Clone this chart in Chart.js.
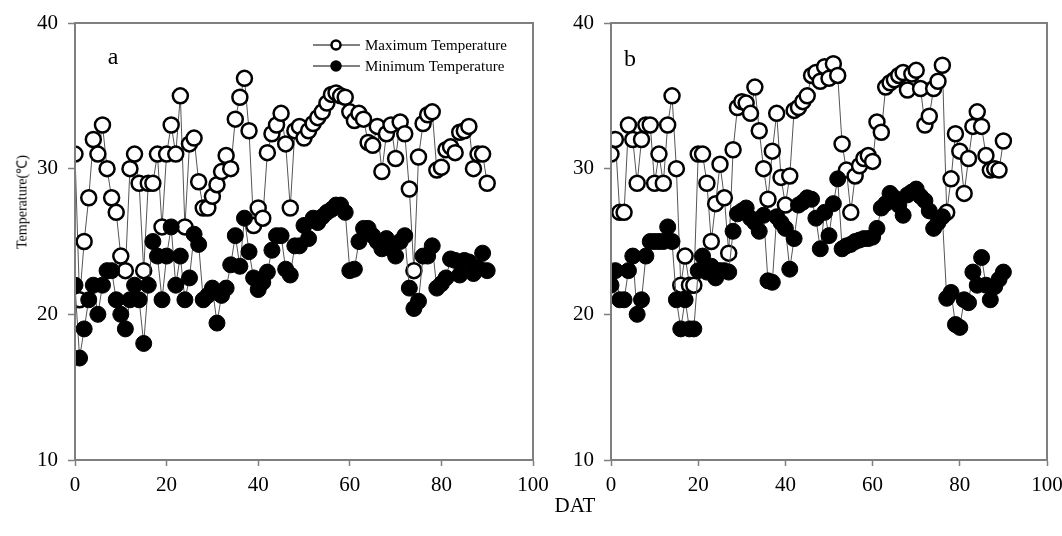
<!DOCTYPE html>
<html>
<head>
    <title>Max / Min Temperature</title>
    <script src="https://cdn.jsdelivr.net/npm/chart.js@4.4.1/dist/chart.umd.min.js"></script>
    <style>
        body {
            margin: 0;
            background: #ffffff;
            font-family: "Liberation Serif", "Times New Roman", serif;
        }
        #wrap {
            position: relative;
            width: 1062px;
            height: 536px;
            overflow: hidden;
        }
        #chartA { position: absolute; left: 0; top: 0; }
        #chartB { position: absolute; left: 556px; top: 0; }
        .ytitle {
            position: absolute;
            left: 21px;
            top: 202px;
            transform: translate(-50%, -50%) rotate(-90deg);
            font-size: 14px;
            white-space: nowrap;
            color: #000;
        }
        .xtitle {
            position: absolute;
            left: 575px;
            top: 505px;
            transform: translate(-50%, -50%);
            font-size: 21px;
            color: #000;
        }
    </style>
</head>
<body>
<div id="wrap">
    <canvas id="chartA" width="556" height="536"></canvas>
    <canvas id="chartB" width="506" height="536"></canvas>
    <div class="ytitle">Temperature(℃)</div>
    <div class="xtitle">DAT</div>
</div>

<script>
// days after transplanting
var days = [0, 1, 2, 3, 4, 5, 6, 7, 8, 9, 10, 11, 12, 13, 14, 15, 16, 17, 18, 19,
    20, 21, 22, 23, 24, 25, 26, 27, 28, 29, 30, 31, 32, 33, 34, 35, 36, 37, 38, 39,
    40, 41, 42, 43, 44, 45, 46, 47, 48, 49, 50, 51, 52, 53, 54, 55, 56, 57, 58, 59,
    60, 61, 62, 63, 64, 65, 66, 67, 68, 69, 70, 71, 72, 73, 74, 75, 76, 77, 78, 79,
    80, 81, 82, 83, 84, 85, 86, 87, 88, 89, 90];

// panel a
var maxTempA = [31, 21, 25, 28, 32, 31, 33, 30, 28, 27, 24, 23, 30, 31, 29, 23, 29, 29, 31, 26,
    31, 33, 31, 35, 26, 31.7, 32.1, 29.1, 27.3, 27.3, 28.1, 28.9, 29.8, 30.9, 30, 33.4, 34.9, 36.2, 32.6, 26.1,
    27.3, 26.6, 31.1, 32.4, 33, 33.8, 31.7, 27.3, 32.6, 32.9, 32.1, 32.6, 33.1, 33.5, 33.9, 34.5, 35.1, 35.2, 35, 34.9,
    33.9, 33.3, 33.8, 33.4, 31.8, 31.6, 32.9, 29.8, 32.4, 33, 30.7, 33.2, 32.4, 28.6, 23, 30.8, 33.1, 33.7, 33.9, 29.9,
    30.1, 31.3, 31.5, 31.1, 32.5, 32.6, 32.9, 30, 31, 31, 29];
var minTempA = [22, 17, 19, 21, 22, 20, 22, 23, 23, 21, 20, 19, 21, 22, 21, 18, 22, 25, 24, 21,
    24, 26, 22, 24, 21, 22.5, 25.5, 24.8, 21, 21.3, 21.8, 19.4, 21.3, 21.8, 23.4, 25.4, 23.3, 26.6, 24.3, 22.5,
    21.7, 22.2, 22.9, 24.4, 25.4, 25.4, 23.1, 22.7, 24.7, 24.7, 26.1, 25.2, 26.6, 26.3, 26.7, 27, 27.2, 27.5, 27.5, 27,
    23, 23.1, 25, 25.9, 25.9, 25.4, 25, 24.5, 25.2, 24.5, 24, 25, 25.4, 21.8, 20.4, 20.9, 24, 24, 24.7, 21.8,
    22.1, 22.5, 23.8, 23.7, 22.7, 23.7, 23.6, 22.8, 23.2, 24.2, 23];

// panel b
var maxTempB = [31, 32, 27, 27, 33, 32, 29, 32, 33, 33, 29, 31, 29, 33, 35, 30, 22, 24, 22, 22,
    31, 31, 29, 25, 27.6, 30.3, 28, 24.2, 31.3, 34.2, 34.6, 34.5, 33.8, 35.6, 32.6, 30, 27.9, 31.2, 33.8, 29.4,
    27.5, 29.5, 34, 34.2, 34.6, 35, 36.4, 36.6, 36, 37, 36.2, 37.2, 36.4, 31.7, 29.9, 27, 29.5, 30.2, 30.7, 30.9,
    30.5, 33.2, 32.5, 35.6, 35.9, 36.1, 36.4, 36.6, 35.4, 36.5, 36.75, 35.5, 33, 33.6, 35.5, 36, 37.1, 27, 29.3, 32.4,
    31.2, 28.3, 30.7, 32.9, 33.9, 32.9, 30.9, 29.9, 30, 29.9, 31.9];
var minTempB = [22, 23, 21, 21, 23, 24, 20, 21, 24, 25, 25, 25, 25, 26, 25, 21, 19, 21, 19, 19,
    23, 24, 22.9, 23.3, 22.5, 23, 23, 22.9, 25.7, 26.9, 27.1, 27.3, 26.6, 26.3, 25.7, 26.8, 22.3, 22.2, 26.7, 26.3,
    25.9, 23.1, 25.2, 27.5, 27.7, 28, 27.9, 26.6, 24.5, 27, 25.4, 27.6, 29.3, 24.5, 24.7, 24.8, 25, 25.1, 25.2, 25.2,
    25.3, 25.9, 27.3, 27.6, 28.3, 28, 27.5, 26.8, 28.2, 28.4, 28.6, 28.1, 27.8, 27.1, 25.9, 26.3, 26.7, 21.1, 21.5, 19.3,
    19.1, 21, 20.8, 22.9, 22, 23.9, 22, 21, 21.9, 22.4, 22.9];

var xTicks = [0, 20, 40, 60, 80, 100];
var yTicks = [10, 20, 30, 40];
var seriesNames = ['Maximum Temperature', 'Minimum Temperature'];

var axisGray = '#7f7f7f';
var serif = '"Liberation Serif", "Times New Roman", serif';

function toPoints(values) {
    return days.map(function (d, i) { return { x: d, y: values[i] }; });
}

// box around the plot area + the panel letter
var framePlugin = {
    id: 'panelFrame',
    afterDraw: function (chart, args, opts) {
        var ctx = chart.ctx, a = chart.chartArea;
        ctx.save();
        ctx.strokeStyle = axisGray;
        ctx.lineWidth = 2;
        ctx.strokeRect(a.left, a.top, a.right - a.left, a.bottom - a.top);
        if (opts.letter) {
            ctx.fillStyle = '#000';
            ctx.font = '24px ' + serif;
            ctx.textAlign = 'center';
            ctx.textBaseline = 'middle';
            ctx.fillText(opts.letter, opts.letterX, opts.letterY);
        }
        ctx.restore();
    }
};

// legend drawn inside the plot (panel a only)
var insideLegend = {
    id: 'insideLegend',
    afterDraw: function (chart, args, opts) {
        if (!opts.show) return;
        var ctx = chart.ctx;
        ctx.save();
        chart.data.datasets.forEach(function (ds, i) {
            var y = opts.y + i * opts.gap;
            ctx.strokeStyle = '#000';
            ctx.lineWidth = 1;
            ctx.beginPath();
            ctx.moveTo(opts.x, y);
            ctx.lineTo(opts.x + 47, y);
            ctx.stroke();
            ctx.beginPath();
            ctx.arc(opts.x + 23, y, 4.5, 0, Math.PI * 2);
            ctx.fillStyle = ds.pointBackgroundColor;
            ctx.fill();
            ctx.lineWidth = 2.5;
            ctx.strokeStyle = '#000';
            ctx.stroke();
            ctx.fillStyle = '#000';
            ctx.font = '15px ' + serif;
            ctx.textAlign = 'left';
            ctx.textBaseline = 'middle';
            ctx.fillText(ds.label, opts.x + 52, y + 1);
        });
        ctx.restore();
    }
};

function makePanel(canvasId, maxVals, minVals, cfg) {
    var ctx = document.getElementById(canvasId).getContext('2d');
    return new Chart(ctx, {
        type: 'line',
        data: {
            datasets: [{
                label: seriesNames[0],
                data: toPoints(maxVals),
                borderColor: '#555555',
                borderWidth: 1,
                pointRadius: 7.5,
                pointBorderWidth: 2.5,
                pointBackgroundColor: '#ffffff',
                pointBorderColor: '#000000',
                order: 1
            }, {
                label: seriesNames[1],
                data: toPoints(minVals),
                borderColor: '#555555',
                borderWidth: 1,
                pointRadius: 8,
                pointBorderWidth: 1,
                pointBackgroundColor: '#000000',
                pointBorderColor: '#000000',
                order: 0
            }]
        },
        plugins: [framePlugin, insideLegend],
        options: {
            responsive: false,
            animation: false,
            layout: { padding: { top: 23, right: cfg.padRight, bottom: 0, left: 0 } },
            plugins: {
                legend: { display: false },
                tooltip: { enabled: false },
                panelFrame: { letter: cfg.letter, letterX: cfg.letterX, letterY: cfg.letterY },
                insideLegend: { show: cfg.legend, x: 313, y: 45, gap: 21 }
            },
            scales: {
                x: {
                    type: 'linear',
                    min: 0,
                    max: 100,
                    afterBuildTicks: function (scale) {
                        scale.ticks = xTicks.map(function (v) { return { value: v }; });
                    },
                    afterFit: function (scale) {
                        scale.height = 76;
                        scale.paddingLeft = 0;
                        scale.paddingRight = 0;
                    },
                    border: { color: axisGray, width: 2 },
                    grid: { drawOnChartArea: false, tickLength: 6, tickColor: axisGray, tickWidth: 1.5 },
                    ticks: { color: '#000', padding: 7, maxRotation: 0, font: { family: serif, size: 21 } }
                },
                y: {
                    type: 'linear',
                    min: 10,
                    max: 40,
                    afterBuildTicks: function (scale) {
                        scale.ticks = yTicks.map(function (v) { return { value: v }; });
                    },
                    afterFit: function (scale) {
                        scale.width = cfg.yWidth;
                    },
                    border: { color: axisGray, width: 2 },
                    grid: { drawOnChartArea: false, tickLength: 7, tickColor: axisGray, tickWidth: 1.5 },
                    ticks: { color: '#000', padding: 10, font: { family: serif, size: 21 } }
                }
            }
        }
    });
}

makePanel('chartA', maxTempA, minTempA, {
    padRight: 23, yWidth: 75, letter: 'a', letterX: 113, letterY: 58, legend: true
});
makePanel('chartB', maxTempB, minTempB, {
    padRight: 15, yWidth: 55, letter: 'b', letterX: 74, letterY: 60, legend: false
});
</script>
</body>
</html>
